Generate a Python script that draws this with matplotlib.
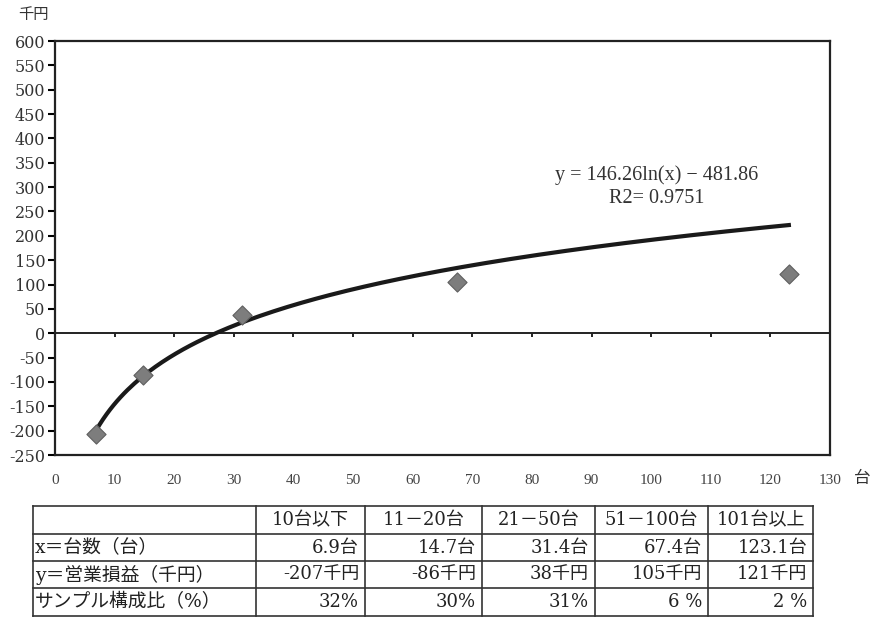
import numpy as np
import matplotlib
matplotlib.use("Agg")
import matplotlib.pyplot as plt

plt.rcParams['font.family'] = ['DejaVu Serif', 'Noto Sans CJK JP', 'DejaVu Sans']

# data
units = [6.9, 14.7, 31.4, 67.4, 123.1]
profit = [-207, -86, 38, 105, 121]
share = ['32%', '30%', '31%', '6 %', '2 %']
groups = ['10台以下', '11－20台', '21－50台', '51－100台', '101台以上']
row_labels = ['x＝台数（台）', 'y＝営業損益（千円）', 'サンプル構成比（%）']

# log trendline shown on the chart
coef_a, coef_b = 146.26, -481.86
r2 = 0.9751

xticks = np.arange(0, 131, 10)
yticks = np.arange(-250, 601, 50)

fig = plt.figure(figsize=(8.72, 6.19), dpi=100)
ax = fig.add_axes([55/872, 1-455/619, 775/872, 414/619])

xs = np.linspace(min(units), max(units), 200)
ax.plot(xs, coef_a*np.log(xs) + coef_b, color='#1a1a1a', lw=3.0, zorder=3)
ax.scatter(units, profit, marker='D', s=95, color='#7d7d7d', edgecolor='#5f5f5f',
           linewidths=0.8, zorder=4)

ax.set_xlim(0, 130)
ax.set_ylim(-250, 600)
ax.set_yticks(yticks)
ax.set_yticklabels([str(v) for v in yticks], fontsize=11.5, color='#333333')
ax.tick_params(axis='y', direction='out', length=5, width=1.5, pad=2)
ax.set_xticks(xticks)
ax.set_xticklabels([str(v) for v in xticks], fontsize=11, color='#444444',
                   family='Liberation Serif')
ax.tick_params(axis='x', length=0, pad=14)
for s in ax.spines.values():
    s.set_linewidth(1.6)
    s.set_color('#222222')

# x axis crossing at y = 0
sec = ax.secondary_xaxis(0, transform=ax.transData)
sec.set_xticks(xticks)
sec.tick_params(axis='x', direction='out', length=3, width=1.2, labelbottom=False)
sec.spines['bottom'].set_linewidth(1.4)
sec.spines['bottom'].set_color('#222222')

ax.text(0.776, 0.648, f'y = {coef_a}ln(x) − {abs(coef_b)}\nR2= {r2}', transform=ax.transAxes,
        ha='center', va='center', fontsize=14.5, color='#333333', linespacing=1.25,
        family='Liberation Serif')

fig.text(18/872, 1-15/619, '千円', fontsize=11, ha='left', va='center', color='#333333')
fig.text(862/872, 1-478/619, '台', fontsize=12, ha='center', va='center', color='#333333')

# table below the chart
col_edges = [33, 256, 365, 482, 595, 708, 813]
row_edges = [506, 534, 561, 588, 616]
cells = [[''] + groups,
         [row_labels[0]] + [f'{v}台' for v in units],
         [row_labels[1]] + [f'{v}千円' for v in profit],
         [row_labels[2]] + share]
tax = fig.add_axes([0, 0, 1, 1])
tax.set_xlim(0, 872)
tax.set_ylim(619, 0)
tax.axis('off')
for y in row_edges:
    tax.plot([col_edges[0], col_edges[-1]], [y, y], color='#333333', lw=1.2)
for x in col_edges:
    tax.plot([x, x], [row_edges[0], row_edges[-1]], color='#333333', lw=1.2)
for r, row in enumerate(cells):
    yc = (row_edges[r] + row_edges[r+1]) / 2
    for c, txt in enumerate(row):
        if c == 0:
            tax.text(col_edges[0] + 2, yc, txt, ha='left', va='center', fontsize=13.5, color='#222222')
        elif r == 0:
            tax.text((col_edges[c] + col_edges[c+1]) / 2, yc, txt, ha='center', va='center',
                     fontsize=13, color='#222222')
        else:
            tax.text(col_edges[c+1] - 6, yc, txt, ha='right', va='center', fontsize=13, color='#222222')

fig.savefig('out.png', dpi=100)
